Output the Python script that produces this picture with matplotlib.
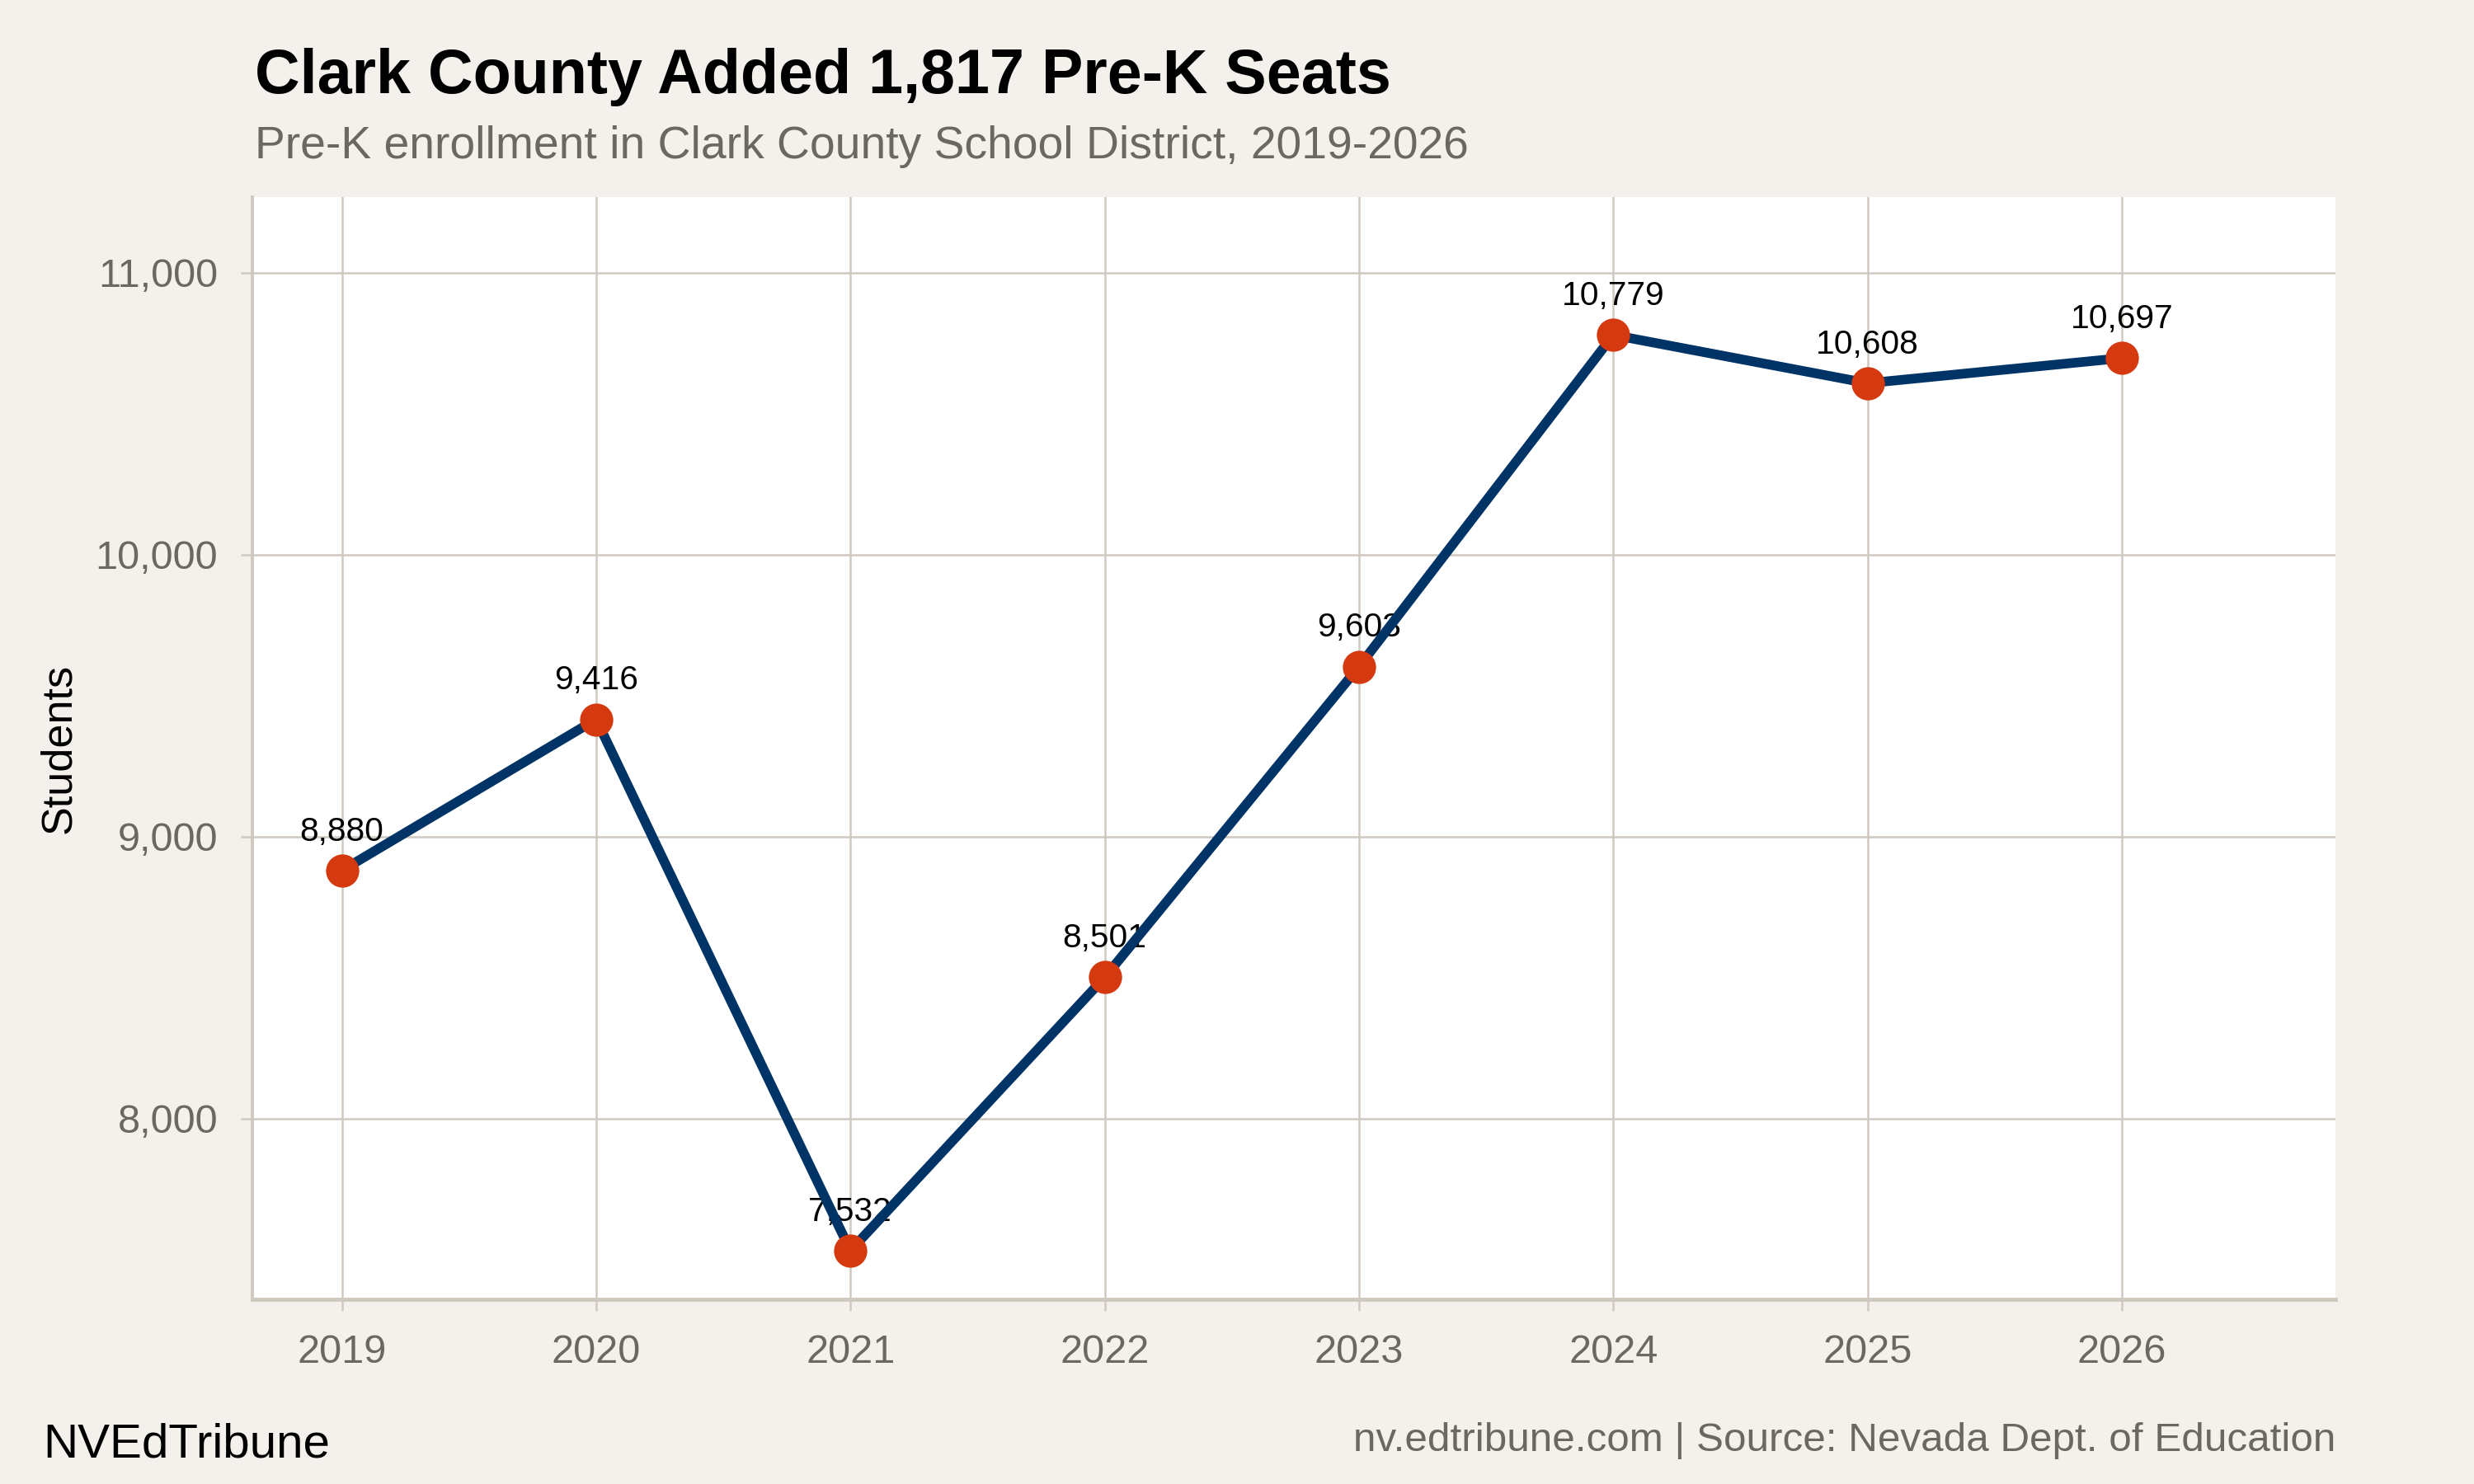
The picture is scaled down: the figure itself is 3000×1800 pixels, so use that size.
import matplotlib
matplotlib.use("Agg")
import matplotlib.pyplot as plt
from matplotlib.ticker import FuncFormatter

years = [2019, 2020, 2021, 2022, 2023, 2024, 2025, 2026]
students = [8880, 9416, 7532, 8501, 9603, 10779, 10608, 10697]
y_ticks = [8000, 9000, 10000, 11000]

bg = "#f4f1ec"
grid_col = "#cfc9c0"
gray_text = "#6b6761"
line_col = "#003366"
dot_col = "#d4390f"

plt.rcParams["font.family"] = ["Liberation Sans", "DejaVu Sans"]

fig = plt.figure(figsize=(15, 9), dpi=200, facecolor=bg)
ax = fig.add_axes([0.102, 0.1244, 0.842, 0.7428])
ax.set_facecolor("white")

ax.plot(years, students, color=line_col, lw=4.2, zorder=3, solid_capstyle="round")
ax.plot(years, students, "o", color=dot_col, markersize=13.5, zorder=4)

for x, y in zip(years, students):
    ax.annotate(f"{y:,}", (x, y), xytext=(0, 13), textcoords="offset points",
                ha="center", va="baseline", fontsize=14.7, color="black", zorder=2)

ax.set_xlim(2018.648, 2026.84)
ax.set_ylim(7359, 11268)
ax.set_xticks(years)
ax.set_yticks(y_ticks)
ax.yaxis.set_major_formatter(FuncFormatter(lambda v, p: f"{int(v):,}"))

ax.grid(True, color=grid_col, lw=0.9, zorder=0)
ax.set_axisbelow(True)
for s in ["top", "right"]:
    ax.spines[s].set_visible(False)
ax.spines["left"].set_color(grid_col)
ax.spines["left"].set_linewidth(1.4)
ax.spines["bottom"].set_color(grid_col)
ax.spines["bottom"].set_linewidth(1.8)

ax.tick_params(axis="both", colors=grid_col, length=5, width=0.9,
               labelcolor=gray_text, labelsize=17.5, pad=10)

ax.set_ylabel("Students", fontsize=18.8, color="black")
ax.yaxis.set_label_coords(-0.083, 0.5)

fig.text(0.103, 0.9372, "Clark County Added 1,817 Pre-K Seats", fontsize=27.2,
         fontweight="bold", color="black", ha="left", va="baseline")
fig.text(0.103, 0.8933, "Pre-K enrollment in Clark County School District, 2019-2026",
         fontsize=19.9, color=gray_text, ha="left", va="baseline")

fig.text(0.0175, 0.0183, "NVEdTribune", fontsize=21, color="black",
         ha="left", va="baseline")
fig.text(0.944, 0.0222, "nv.edtribune.com | Source: Nevada Dept. of Education",
         fontsize=17.8, color=gray_text, ha="right", va="baseline")

fig.savefig("out.png", dpi=200, facecolor=bg)
